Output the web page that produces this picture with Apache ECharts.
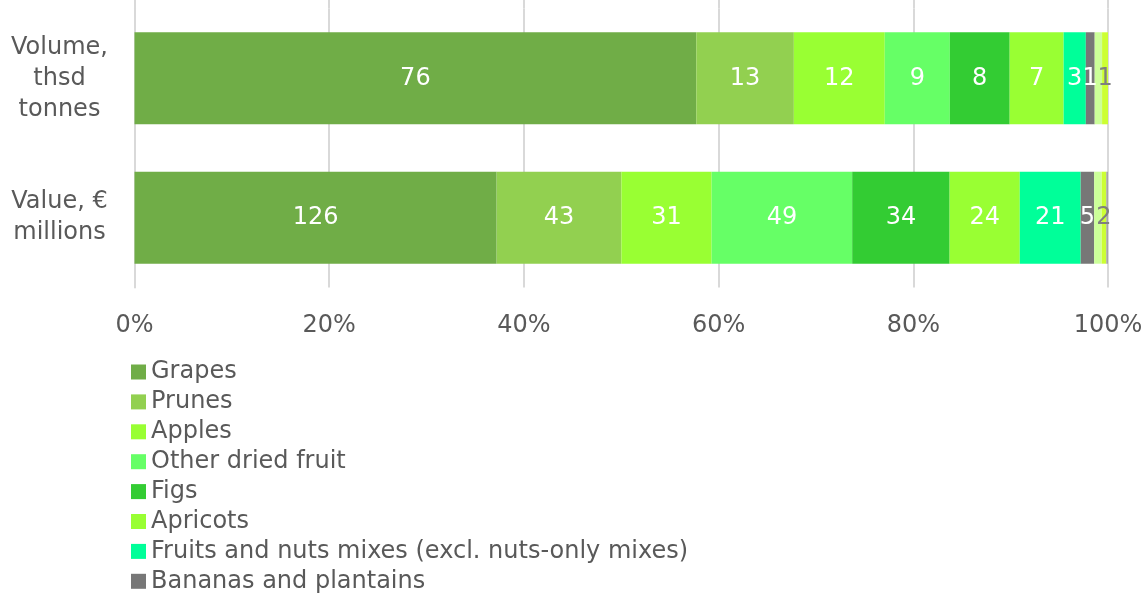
<!DOCTYPE html>
<html>
<head>
<meta charset="utf-8">
<script src="https://cdn.jsdelivr.net/npm/echarts@6/dist/echarts.min.js"></script>
<style>
html,body{margin:0;padding:0;background:#fff;}
#c{width:1147px;height:594px;}
</style>
</head>
<body>
<div id="c"></div>
<script>
// Categories (top to bottom)
const categories = ['Volume,\nthsd\ntonnes', 'Value, €\nmillions'];
const seriesNames = ['Grapes', 'Prunes', 'Apples', 'Other dried fruit', 'Figs', 'Apricots',
  'Fruits and nuts mixes (excl. nuts-only mixes)', 'Bananas and plantains', 'Series 9', 'Series 10', 'Series 11'];
// Values per series: [Volume, Value]
const grapes = [76.0, 126.0];
const prunes = [13.2, 43.4];
const apples = [12.3, 31.4];
const otherDried = [8.8, 48.9];
const figs = [8.1, 33.9];
const apricots = [7.3, 24.4];
const mixes = [3.0, 21.2];
const bananas = [1.2, 4.7];
const series9 = [1.0, 2.6];
const series10 = [0.8, 1.6];
const series11 = [0.0, 0.6];
const tickLabels = ['0%', '20%', '40%', '60%', '80%', '100%'];

const allValues = [grapes, prunes, apples, otherDried, figs, apricots, mixes, bananas, series9, series10, series11];
const colors = ['#70AD47', '#92D050', '#99FF33', '#66FF66', '#33CC33', '#99FF33', '#00FF99', '#777777', '#CCFF99', '#CCFF33', '#A6A6A6'];
const labelColors = ['#fff', '#fff', '#fff', '#fff', '#fff', '#fff', '#fff', '#fff', null, '#7F7F7F', null];

const totals = categories.map((_, i) => allValues.reduce((s, arr) => s + arr[i], 0));
const FONT = 'DejaVu Sans, sans-serif';
const FS = 24;

const series = allValues.map((arr, k) => ({
  name: seriesNames[k],
  type: 'bar',
  stack: 'total',
  barCategoryGap: '34%',
  xAxisIndex: 0, yAxisIndex: 0,
  itemStyle: { color: colors[k] },
  label: {
    show: labelColors[k] !== null,
    position: 'inside',
    color: labelColors[k] || '#fff',
    fontSize: FS,
    fontFamily: FONT,
    formatter: p => arr[p.dataIndex] > 0 ? String(Math.round(arr[p.dataIndex])) : ''
  },
  emphasis: { disabled: true },
  data: arr.map((v, i) => v / totals[i] * 100)
}));

const chart = echarts.init(document.getElementById('c'), null, { renderer: 'canvas' });
chart.setOption({
  animation: false,
  color: colors,
  textStyle: { fontFamily: FONT },
  grid: [
    { left: 134.5, right: 39, top: 8.6, bottom: 594 - 287.4, containLabel: false },
    { left: 134.5, right: 39, top: 0, height: 8.6, containLabel: false }
  ],
  xAxis: [{
    type: 'value', min: 0, max: 100, interval: 20,
    axisLine: { show: false }, axisTick: { show: false },
    splitLine: { lineStyle: { color: '#D9D9D9', width: 2 } },
    axisLabel: {
      color: '#595959', fontSize: FS, fontFamily: FONT, margin: 26,
      formatter: v => tickLabels[Math.round(v / 20)]
    }
  }, {
    gridIndex: 1, type: 'value', min: 0, max: 100, interval: 20,
    axisLine: { show: false }, axisTick: { show: false }, axisLabel: { show: false },
    splitLine: { lineStyle: { color: '#D9D9D9', width: 2 } }
  }],
  yAxis: [{
    type: 'category', data: categories, inverse: true,
    axisLine: { show: true, lineStyle: { color: '#D9D9D9', width: 2 } },
    axisTick: { show: false },
    axisLabel: { color: '#595959', fontSize: FS, fontFamily: FONT, align: 'center', margin: 75, lineHeight: 31 }
  }, {
    gridIndex: 1, type: 'category', data: [''],
    axisLine: { show: true, lineStyle: { color: '#D9D9D9', width: 2 } },
    axisTick: { show: false }, axisLabel: { show: false }
  }],
  legend: {
    orient: 'vertical', left: 131, top: 360, height: 300, padding: 0,
    data: seriesNames.slice(0, 8),
    icon: 'rect', itemWidth: 15, itemHeight: 15, itemGap: 5.9,
    textStyle: { color: '#595959', fontSize: FS, fontFamily: FONT, lineHeight: 24 },
    selectedMode: false
  },
  series: series
});
</script>
</body>
</html>
